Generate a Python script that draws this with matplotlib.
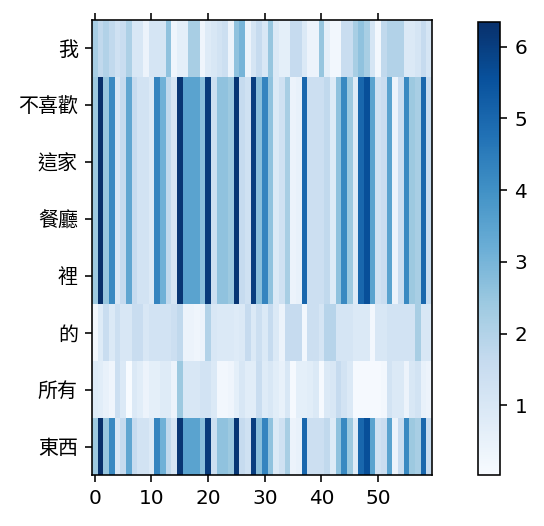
import numpy as np
import matplotlib
matplotlib.use("Agg")
import matplotlib.pyplot as plt

plt.rcParams['font.family'] = ['DejaVu Sans', 'Noto Sans CJK TC']

# tokens on the y axis, top to bottom
tokens = ['我', '不喜歡', '這家', '餐廳', '裡', '的', '所有', '東西']

# one value per hidden unit (60 columns)
row_wo = [2.2, 1.7, 2.0, 1.7, 1.3, 1.5, 2.1, 1.0, 1.0, 0.4,
          1.1, 1.1, 1.1, 2.6, 0.3, 0.6, 0.6, 2.2, 2.2, 0.3,
          0.8, 1.0, 1.2, 1.4, 0.4, 2.6, 3.0, 0.4, 1.1, 1.6,
          1.0, 2.5, 0.9, 0.6, 0.6, 1.6, 1.6, 0.9, 0.4, 0.4,
          2.5, 0.6, 0.2, 0.2, 1.5, 1.5, 2.2, 2.6, 2.2, 1.1,
          0.2, 1.7, 2.0, 2.0, 2.0, 0.9, 0.9, 1.1, 1.6, 1.1]

row_mid = [2.4, 6.35, 2.5, 4.2, 1.0, 1.6, 3.4, 1.6, 1.2, 1.2,
           0.9, 4.3, 3.1, 1.7, 1.1, 6.2, 3.5, 3.5, 3.5, 2.7,
           6.1, 1.4, 2.6, 2.6, 2.4, 6.2, 1.6, 1.3, 6.0, 2.7,
           4.3, 2.6, 0.9, 1.3, 2.2, 0.4, 0.5, 5.0, 1.4, 1.4,
           1.4, 1.7, 0.8, 2.6, 4.2, 2.4, 0.8, 5.0, 5.6, 3.5,
           1.3, 1.5, 3.5, 0.4, 1.5, 4.2, 2.4, 2.2, 5.0, 1.6]

row_de = [0.2, 0.8, 1.5, 0.9, 1.4, 1.0, 1.0, 1.5, 1.5, 1.0,
          1.2, 1.2, 1.2, 1.2, 1.4, 1.7, 0.4, 0.4, 0.3, 0.4,
          2.0, 1.0, 0.9, 0.9, 0.9, 0.8, 0.9, 1.6, 0.9, 1.4,
          0.9, 1.6, 0.9, 0.4, 1.6, 1.6, 1.6, 0.2, 1.4, 1.4,
          1.1, 1.9, 1.9, 1.1, 1.1, 1.1, 0.9, 0.9, 0.9, 0.2,
          1.0, 1.0, 1.2, 1.2, 1.2, 1.2, 1.2, 2.2, 1.0, 1.0]

row_suoyou = [0.8, 0.7, 0.5, 0.3, 1.4, 0.9, 0.03, 0.9, 0.7, 0.4,
              0.6, 0.6, 0.8, 0.8, 0.4, 2.4, 1.0, 1.0, 1.0, 1.2,
              1.2, 0.9, 0.2, 0.2, 0.3, 0.6, 1.0, 0.7, 0.7, 1.5,
              0.8, 1.0, 0.7, 0.5, 1.0, 0.1, 0.6, 0.6, 0.7, 0.9,
              0.1, 0.9, 1.0, 1.6, 1.2, 0.9, 0.1, 0.1, 0.1, 0.1,
              0.1, 0.2, 1.2, 0.9, 0.9, 0.4, 1.0, 1.2, 0.5, 0.4]

data = np.array([row_wo, row_mid, row_mid, row_mid, row_mid,
                 row_de, row_suoyou, row_mid])

fig = plt.figure(figsize=(544 / 144, 526 / 144), dpi=144)
ax = fig.add_axes([0.169, 0.097, 0.625, 0.865])
cax = fig.add_axes([0.879, 0.097, 0.041, 0.862])

im = ax.imshow(data, cmap='Blues', aspect='auto', interpolation='nearest')
ax.set_yticks(range(len(tokens)))
ax.set_yticklabels(tokens)
ax.set_xticks(range(0, 60, 10))
ax.tick_params(top=True)

cb = fig.colorbar(im, cax=cax)
cb.set_ticks([1, 2, 3, 4, 5, 6])

fig.savefig('out.png', dpi=144)
